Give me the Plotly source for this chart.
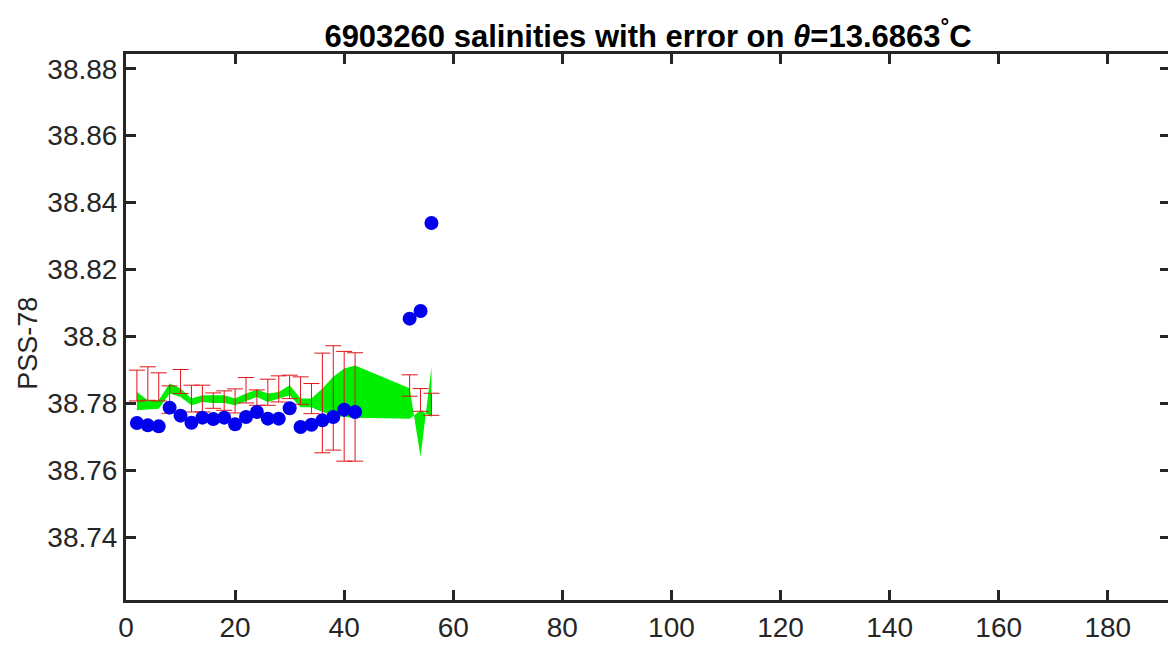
import plotly.graph_objects as go

# profile numbers (cycle) and salinities
profiles = [2, 4, 6, 8, 10, 12, 14, 16, 18, 20, 22, 24, 26, 28, 30, 32, 34, 36, 38, 40, 42, 52, 54, 56]

# uncalibrated float salinity on the theta level (blue dots)
float_sal = [38.7741, 38.7734, 38.7731, 38.7787, 38.7763, 38.7742, 38.7757, 38.7753,
             38.7757, 38.7737, 38.7759, 38.7774, 38.7754, 38.7754, 38.7785, 38.7729,
             38.7736, 38.7749, 38.7759, 38.7781, 38.7774, 38.8053, 38.8076, 38.8339]

# mapped salinity envelope (green band), upper and lower edges
band_hi = [38.7834, 38.7809, 38.7809, 38.7859, 38.7844, 38.7814, 38.7824, 38.7824,
           38.7824, 38.7814, 38.7829, 38.7841, 38.7829, 38.7834, 38.7854, 38.7814,
           38.7814, 38.7844, 38.7879, 38.7904, 38.7913, 38.7845, 38.7640, 38.7908]
band_lo = [38.7779, 38.7781, 38.7784, 38.7829, 38.7819, 38.7794, 38.7804, 38.7801,
           38.7801, 38.7794, 38.7807, 38.7819, 38.7804, 38.7814, 38.7824, 38.7788,
           38.7788, 38.7774, 38.7764, 38.7759, 38.7757, 38.7754, 38.7779, 38.7759]

# calibrated salinity and its error (red error bars)
cal_sal = [38.7853, 38.7859, 38.7849, 38.7811, 38.7865, 38.7814, 38.7814, 38.7808,
           38.7808, 38.7807, 38.7839, 38.7817, 38.7833, 38.7843, 38.7849, 38.7838,
           38.7814, 38.7801, 38.7816, 38.7791, 38.7789, 38.7853, 38.7810, 38.7797]
cal_err = [0.0046, 0.0050, 0.0042, 0.0041, 0.0036, 0.0040, 0.0040, 0.0023,
           0.0029, 0.0036, 0.0038, 0.0023, 0.0039, 0.0039, 0.0035, 0.0041,
           0.0045, 0.0149, 0.0156, 0.0164, 0.0162, 0.0032, 0.0034, 0.0033]

x_ticks = [0, 20, 40, 60, 80, 100, 120, 140, 160, 180]
y_ticks = [38.74, 38.76, 38.78, 38.8, 38.82, 38.84, 38.86, 38.88]
y_tick_text = ["38.74", "38.76", "38.78", "38.8", "38.82", "38.84", "38.86", "38.88"]

axis_col = "#262626"
FONT = "Liberation Sans, Arial"

# page body has an 8px margin, so the figure is a bit smaller than the window
W, H = 1168, 641

fig = go.Figure()

# green envelope as a closed polygon
fig.add_trace(go.Scatter(
    x=profiles + profiles[::-1],
    y=band_hi + band_lo[::-1],
    fill="toself", fillcolor="#00ee00",
    mode="lines", line=dict(width=0, color="#00ee00"),
    hoverinfo="skip", showlegend=False,
))

# red error bars
fig.add_trace(go.Scatter(
    x=profiles, y=cal_sal, mode="markers",
    marker=dict(size=1, color="rgba(0,0,0,0)"),
    error_y=dict(type="data", array=cal_err, symmetric=True,
                 color="#e0141a", thickness=1, width=8),
    showlegend=False,
))

# blue float salinities
fig.add_trace(go.Scatter(
    x=profiles, y=float_sal, mode="markers",
    marker=dict(size=14, color="#0000ee", line=dict(width=0)),
    showlegend=False,
))

axis_common = dict(
    showline=True, linecolor=axis_col, linewidth=3, mirror="allticks",
    ticks="inside", ticklen=10, tickwidth=3, tickcolor=axis_col,
    showgrid=False, zeroline=False,
    tickfont=dict(family=FONT, size=28, color=axis_col),
)

fig.update_xaxes(range=[0, 191.4], tickvals=x_ticks, **axis_common)
fig.update_yaxes(range=[38.7212, 38.8844], tickvals=y_ticks, ticktext=y_tick_text,
                 **axis_common)

fig.update_layout(
    width=W, height=H,
    margin=dict(l=118, r=3, t=46, b=49),
    paper_bgcolor="white", plot_bgcolor="white",
    title=dict(
        text="<b>6903260 salinities with error on <i>θ</i>=13.6863<sup>°</sup>C</b>",
        x=0.5, xref="paper", xanchor="center",
        y=1 - 28 / H, yref="container", yanchor="middle",
        font=dict(family=FONT, size=31, color="black"),
    ),
    annotations=[dict(
        text="PSS-78", textangle=-90,
        xref="paper", yref="paper", x=-0.0936, y=0.47,
        xanchor="center", yanchor="middle", showarrow=False,
        font=dict(family=FONT, size=27, color=axis_col),
    )],
)

fig.write_html("out.html")
